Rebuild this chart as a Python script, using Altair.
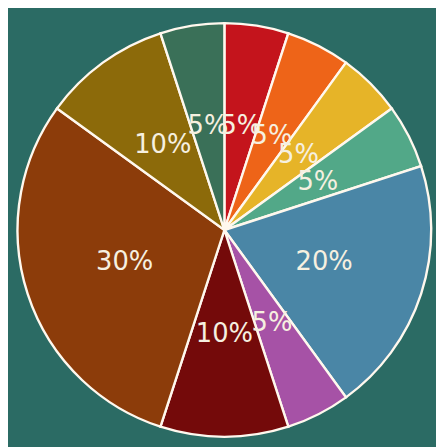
import altair as alt
import pandas as pd

slices = ["s1", "s2", "s3", "s4", "s5", "s6", "s7", "s8", "s9", "s10"]
values = [5, 5, 5, 5, 20, 5, 10, 30, 10, 5]
labels = ["5%", "5%", "5%", "5%", "20%", "5%", "10%", "30%", "10%", "5%"]
colors = ["#c4141c", "#ee6418", "#e6b428", "#52a888", "#4a86a6",
          "#a652a6", "#740a0a", "#8c3c0a", "#8c6a0a", "#3a7058"]

df = pd.DataFrame({
    "slice": slices,
    "value": values,
    "label": labels,
    "idx": list(range(len(slices))),
})

cx, cy, R = 227, 219, 217

base = alt.Chart(df).encode(
    theta=alt.Theta("value:Q", stack=True),
    order=alt.Order("idx:Q"),
    x=alt.value(cx),
    y=alt.value(cy),
)

pie = base.mark_arc(outerRadius=R, stroke="#fff8ee", strokeWidth=2.5).encode(
    color=alt.Color("slice:N", scale=alt.Scale(domain=slices, range=colors), legend=None),
)

text = base.mark_text(radius=110, fontSize=27, font="DejaVu Sans",
                      color="#f6f0e0").encode(text="label:N")

chart = (pie + text).properties(
    width=428, height=431, padding=0, background="#2b6b64"
).configure_view(stroke=None)

chart.save("out.html", embed_options={"renderer": "svg", "actions": False})
